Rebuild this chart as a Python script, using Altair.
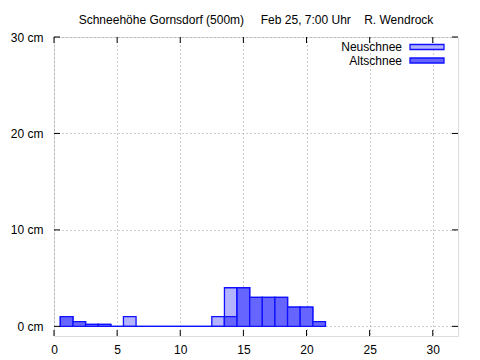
import altair as alt
import pandas as pd

# ---- data ----
days = list(range(1, 22))
altschnee = [1, 0.5, 0.2, 0.2, 0, 0, 0, 0, 0, 0, 0, 0, 0, 1, 4, 3, 3, 3, 2, 2, 0.5]
neuschnee = [0, 0, 0, 0, 0, 1, 0, 0, 0, 0, 0, 0, 1, 3, 0, 0, 0, 0, 0, 0, 0]
x_ticks = [0, 5, 10, 15, 20, 25, 30]
y_ticks = [0, 10, 20, 30]
legend_labels = ["Neuschnee", "Altschnee"]
title_text = "Schneehöhe Gornsdorf (500m)\u00a0\u00a0\u00a0\u00a0\u00a0Feb 25, 7:00 Uhr\u00a0\u00a0\u00a0\u00a0R. Wendrock"

DARK = "#6666ff"
LIGHT = "#b3b3ff"
EDGE = "#1010ff"
FONT = "Liberation Sans"

df = pd.DataFrame({"day": days, "alt": altschnee, "neu": neuschnee})
df["x0"] = df["day"] - 0.5
df["x1"] = df["day"] + 0.5
df["total"] = df["alt"] + df["neu"]
df["base"] = 0.0

xt = pd.DataFrame({"v": x_ticks})
yt = pd.DataFrame({"v": y_ticks})

W, H = 404, 299
xs = alt.Scale(domain=[0, 32], nice=False, zero=False)
ys = alt.Scale(domain=[-1, 30], nice=False, zero=False)

xaxis = alt.Axis(values=x_ticks, ticks=False, domain=False, grid=True,
                 gridDash=[1, 3], gridColor="#999999", gridWidth=1,
                 labelFont=FONT, labelFontSize=12, labelColor="black",
                 labelPadding=8, title=None, labelFlush=False)
yaxis = alt.Axis(values=y_ticks, ticks=False, domain=False, grid=True,
                 gridDash=[1, 3], gridColor="#999999", gridWidth=1,
                 labelFont=FONT, labelFontSize=12, labelColor="black",
                 labelPadding=11, title=None, labelExpr="datum.value + ' cm'",
                 labelFlush=False)

base = alt.Chart(df)
light = base.mark_rect(fill=LIGHT, stroke=EDGE, strokeWidth=1.3).encode(
    x=alt.X("x0:Q", scale=xs, axis=xaxis),
    x2="x1:Q",
    y=alt.Y("total:Q", scale=ys, axis=yaxis),
    y2="base:Q",
)
dark = base.mark_rect(fill=DARK, stroke=EDGE, strokeWidth=1.3).encode(
    x=alt.X("x0:Q", scale=xs),
    x2="x1:Q",
    y=alt.Y("alt:Q", scale=ys),
    y2="base:Q",
)

tick_bottom = alt.Chart(xt).mark_rule(color="black", strokeWidth=1).encode(
    x=alt.X("v:Q", scale=xs), y=alt.value(H), y2=alt.value(H - 6))
tick_top = alt.Chart(xt).mark_rule(color="black", strokeWidth=1).encode(
    x=alt.X("v:Q", scale=xs), y=alt.value(0), y2=alt.value(6))
tick_left = alt.Chart(yt).mark_rule(color="black", strokeWidth=1).encode(
    y=alt.Y("v:Q", scale=ys), x=alt.value(0), x2=alt.value(6))
tick_right = alt.Chart(yt).mark_rule(color="black", strokeWidth=1).encode(
    y=alt.Y("v:Q", scale=ys), x=alt.value(W), x2=alt.value(W - 6))

leg1 = pd.DataFrame({"label": [legend_labels[0]]})
leg2 = pd.DataFrame({"label": [legend_labels[1]]})
leg_txt1 = alt.Chart(leg1).mark_text(align="right", baseline="middle", font=FONT,
                                     fontSize=12, color="black").encode(
    text="label:N", x=alt.value(348), y=alt.value(10))
leg_box1 = alt.Chart(leg1).mark_rect(fill=LIGHT, stroke=EDGE, strokeWidth=1.3).encode(
    x=alt.value(356), x2=alt.value(390), y=alt.value(7.5), y2=alt.value(12.5))
leg_txt2 = alt.Chart(leg2).mark_text(align="right", baseline="middle", font=FONT,
                                     fontSize=12, color="black").encode(
    text="label:N", x=alt.value(348), y=alt.value(23.5))
leg_box2 = alt.Chart(leg2).mark_rect(fill=DARK, stroke=EDGE, strokeWidth=1.3).encode(
    x=alt.value(356), x2=alt.value(390), y=alt.value(21), y2=alt.value(26))

chart = alt.layer(
    light, dark, tick_bottom, tick_top, tick_left, tick_right,
    leg_txt1, leg_box1, leg_txt2, leg_box2,
).properties(
    width=W, height=H,
    title=alt.TitleParams(title_text, font=FONT, fontSize=12, fontWeight="normal",
                          color="black", anchor="middle", frame="group", offset=4),
    autosize=alt.AutoSizeParams(type="none"),
    padding={"left": 46, "top": 29, "right": 10, "bottom": 20},
).configure_view(
    stroke="black", strokeWidth=1.5
).configure(background="white")

chart.save("out.html", embed_options={"renderer": "svg", "actions": False})
